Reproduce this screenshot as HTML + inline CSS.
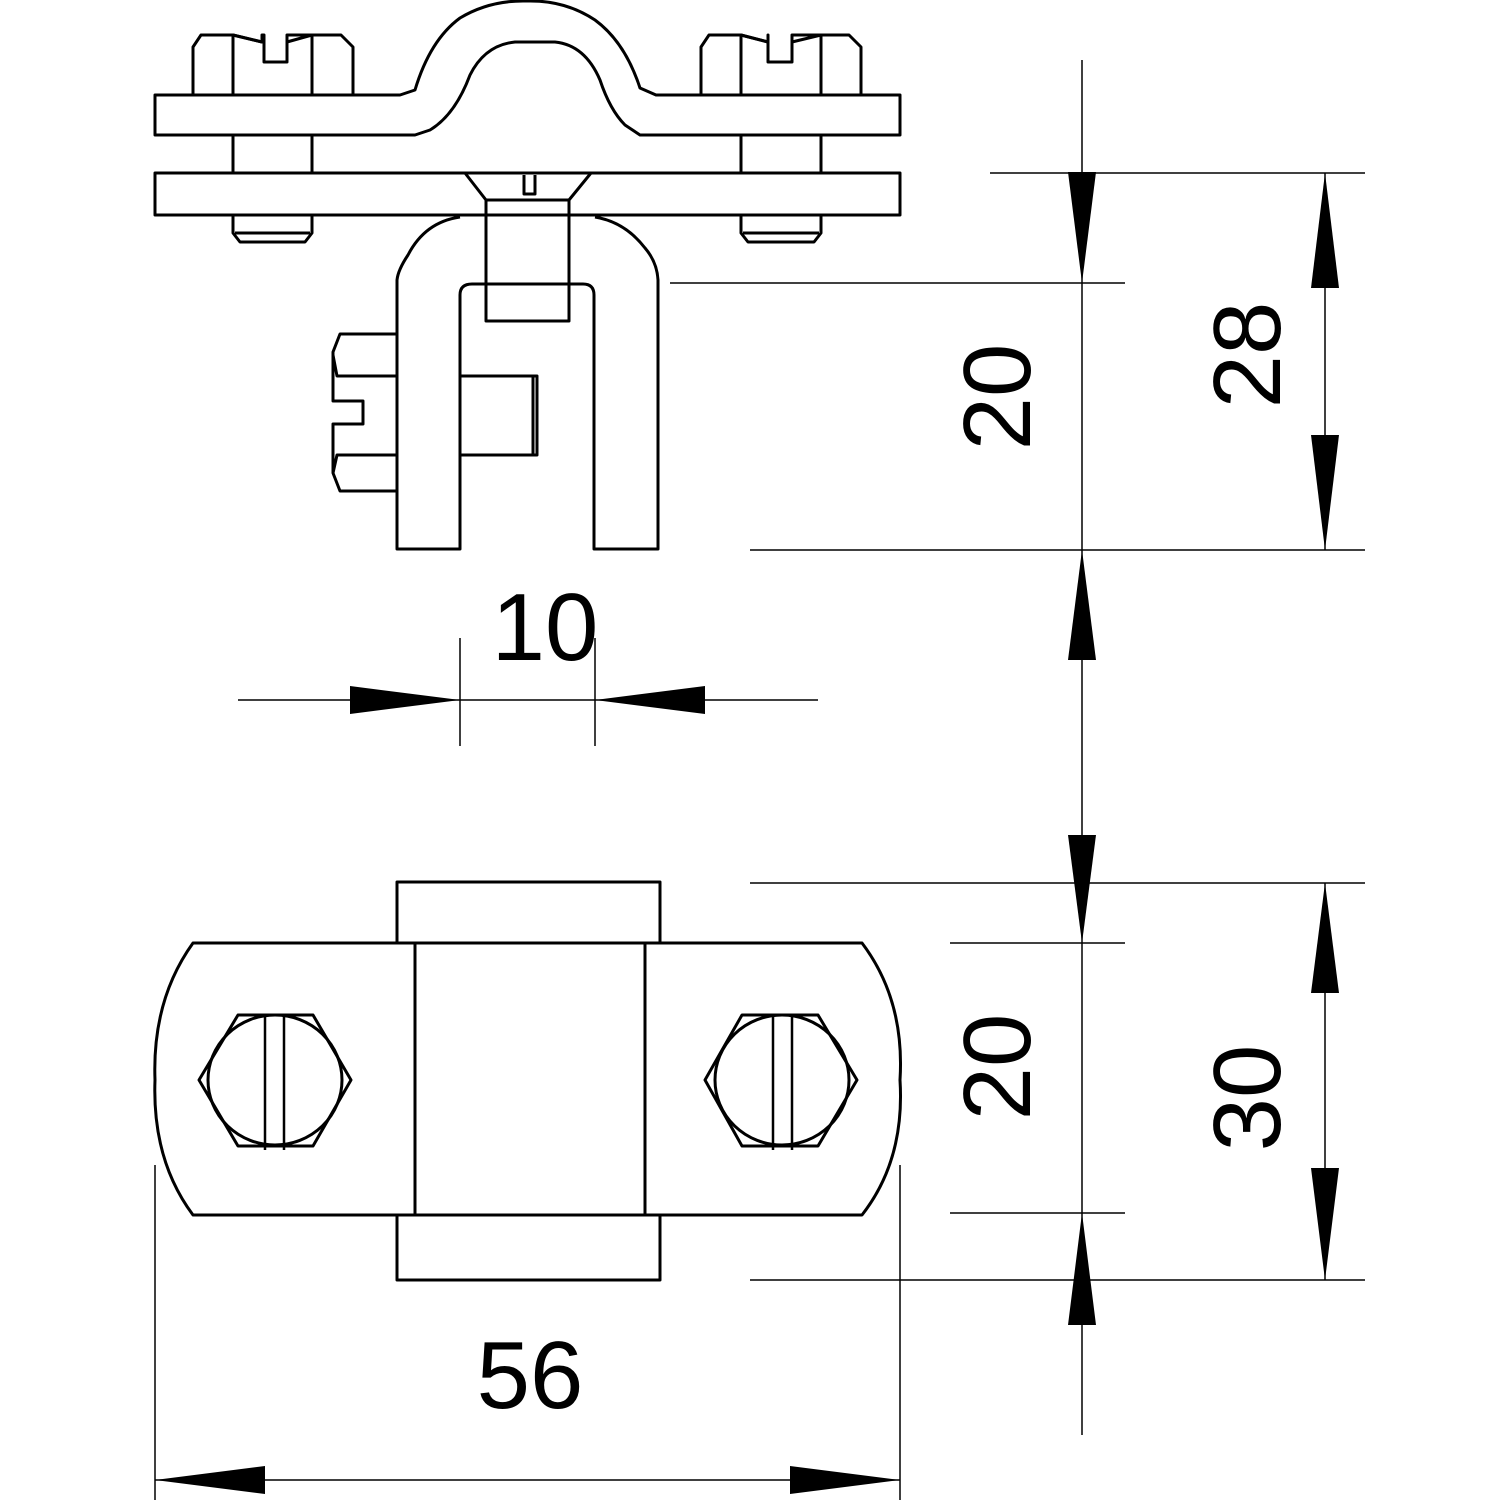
<!DOCTYPE html>
<html><head><style>html,body{margin:0;padding:0;background:#fff}svg{display:block}</style></head>
<body>
<svg width="1500" height="1500" viewBox="0 0 1500 1500" xmlns="http://www.w3.org/2000/svg">
<g fill="none" stroke="#000" stroke-width="3" stroke-linejoin="round">
<!-- Top view -->
<!-- left bolt head -->
<path d="M193,95 V47 L201,35 H233 L262,42 V35 H264 V62 H287 V35 H312 L341,35 L353,47 V95"/>
<path d="M233,35 V95 M312,35 V95 M233,35 L262,42 M312,35 L287,42"/>
<path d="M233,135 V173 M312,135 V173"/>
<path d="M233,215 V233 L240,242 H305 L312,233 V215 M235,233 H310"/>
<!-- right bolt head -->
<path d="M701,95 V47 L709,35 H741 L768,42 V35 V62 H792 V35 H821 L849,35 L861,47 V95"/>
<path d="M741,35 V95 M821,35 V95 M741,35 L768,42 M821,35 L792,42"/>
<path d="M741,135 V173 M821,135 V173"/>
<path d="M741,215 V233 L748,242 H814 L821,233 V215 M743,233 H819"/>
<!-- top plate with arch -->
<path d="M155,95 H400 L415,90 Q430,40 460,18 Q490,0 527,1 Q565,0 595,20 Q625,42 640,88 L656,95 H900 V135 H640 L625,125 Q610,110 600,80 Q585,45 555,42 H515 Q485,45 470,75 Q455,115 430,130 L415,135 H155 Z"/>
<!-- bottom plate -->
<rect x="155" y="173" width="745" height="42"/>
<!-- countersunk screw -->
<path d="M465,173 L486,200 H569 L591,173 M486,200 V321 H569 V200 M524,175 V194 H535 V175"/>
<!-- U bracket -->
<path d="M460,217 Q425,222 408,255 Q398,270 397,280 V549 H460 V295 Q460,284 472,284 H583 Q594,284 594,295 V549 H658 V280 Q657,262 645,248 Q625,222 595,217"/>
<!-- side bolt -->
<path d="M397,334 H340 L333,352 V401 H363 V424 H333 V473 L340,491 H397"/>
<path d="M333,355 L337,376 H397 M333,473 L337,455 H397"/>
<path d="M460,376 H537 V455 H460 M533,376 V455"/>
</g>
<g stroke="#000" stroke-width="1.5" fill="none">
<!-- vertical dimension line -->
<line x1="1082" y1="60" x2="1082" y2="1435"/>
<line x1="990" y1="173" x2="1365" y2="173"/>
<line x1="670" y1="283" x2="1125" y2="283"/>
<line x1="750" y1="550" x2="1365" y2="550"/>
<line x1="750" y1="883" x2="1365" y2="883"/>
<line x1="950" y1="943" x2="1125" y2="943"/>
<line x1="950" y1="1213" x2="1125" y2="1213"/>
<line x1="750" y1="1280" x2="1365" y2="1280"/>
<line x1="1325" y1="173" x2="1325" y2="550"/>
<line x1="1325" y1="883" x2="1325" y2="1280"/>
<!-- 10 -->
<line x1="238" y1="700" x2="818" y2="700"/>
<line x1="460" y1="638" x2="460" y2="746"/>
<line x1="595" y1="638" x2="595" y2="746"/>
<!-- 56 -->
<line x1="155" y1="1480" x2="900" y2="1480"/>
<line x1="155" y1="1165" x2="155" y2="1500"/>
<line x1="900" y1="1165" x2="900" y2="1500"/>
</g>
<g fill="#000">
<polygon points="1082,283 1068,172 1096,172"/>
<polygon points="1082,550 1068,660 1096,660"/>
<polygon points="1082,943 1068,835 1096,835"/>
<polygon points="1082,1213 1068,1325 1096,1325"/>
<polygon points="1325,173 1311,288 1339,288"/>
<polygon points="1325,550 1311,435 1339,435"/>
<polygon points="1325,883 1311,993 1339,993"/>
<polygon points="1325,1280 1311,1168 1339,1168"/>
<polygon points="460,700 350,686 350,714"/>
<polygon points="595,700 705,686 705,714"/>
<polygon points="155,1480 265,1466 265,1494"/>
<polygon points="900,1480 790,1466 790,1494"/>
</g>
<g font-family="Liberation Sans, sans-serif" font-size="96" fill="#000" text-anchor="middle">
<text x="545" y="660">10</text>
<text x="530" y="1408">56</text>
<text transform="translate(1030,397) rotate(-90)">20</text>
<text transform="translate(1280,355) rotate(-90)">28</text>
<text transform="translate(1030,1067) rotate(-90)">20</text>
<text transform="translate(1280,1098) rotate(-90)">30</text>
</g>
<!-- Bottom view -->
<g fill="none" stroke="#000" stroke-width="3" stroke-linejoin="round">
<rect x="397" y="882" width="263" height="61"/>
<rect x="397" y="1215" width="263" height="65"/>
<path d="M193,943 H862 Q905,1000 900,1080 Q905,1160 862,1215 H193 Q152,1160 155,1080 Q152,1000 193,943 Z"/>
<path d="M415,943 V1215 M645,943 V1215"/>
<polygon points="238,1015 313,1015 351,1080 313,1146 238,1146 199,1080"/>
<ellipse cx="275" cy="1080" rx="67" ry="65"/>
<path d="M265,1015 V1150 M284,1015 V1150" stroke-width="2.5"/>
<polygon points="742,1015 818,1015 857,1080 818,1146 742,1146 705,1080"/>
<ellipse cx="782" cy="1080" rx="67" ry="65"/>
<path d="M773,1015 V1150 M792,1015 V1150" stroke-width="2.5"/>
</g>
</svg>
</body></html>
